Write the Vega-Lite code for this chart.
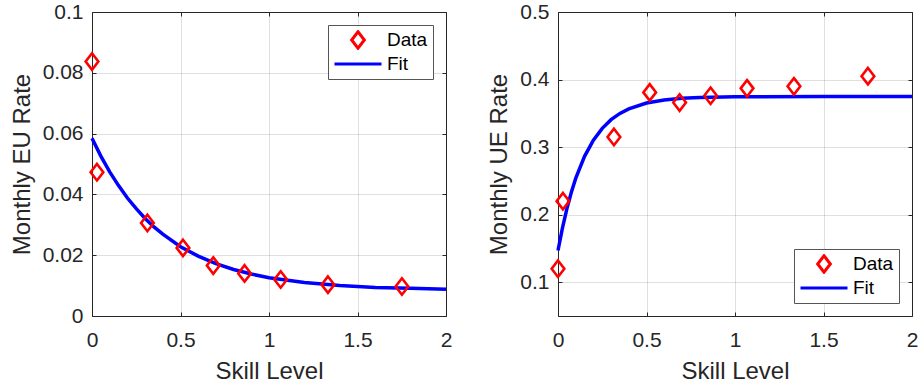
{
  "$schema": "https://vega.github.io/schema/vega-lite/v6.json",
  "background": "white",
  "padding": {"left": 10, "top": 1, "right": 4, "bottom": 2},
  "spacing": 34,
  "datasets": {
    "eu_data": [
      {"skill": 0, "rate": 0.0837, "series": "Data"},
      {"skill": 0.028, "rate": 0.0473, "series": "Data"},
      {"skill": 0.313, "rate": 0.0306, "series": "Data"},
      {"skill": 0.514, "rate": 0.0224, "series": "Data"},
      {"skill": 0.685, "rate": 0.0166, "series": "Data"},
      {"skill": 0.862, "rate": 0.014, "series": "Data"},
      {"skill": 1.066, "rate": 0.012, "series": "Data"},
      {"skill": 1.333, "rate": 0.0103, "series": "Data"},
      {"skill": 1.751, "rate": 0.0097, "series": "Data"}
    ],
    "eu_fit": [
      {"skill": 0, "rate": 0.0585},
      {"skill": 0.05, "rate": 0.0526},
      {"skill": 0.1, "rate": 0.0474},
      {"skill": 0.15, "rate": 0.0429},
      {"skill": 0.2, "rate": 0.0388},
      {"skill": 0.25, "rate": 0.0353},
      {"skill": 0.3, "rate": 0.0321},
      {"skill": 0.35, "rate": 0.0293},
      {"skill": 0.4, "rate": 0.0269},
      {"skill": 0.5, "rate": 0.0228},
      {"skill": 0.6, "rate": 0.0197},
      {"skill": 0.7, "rate": 0.0172},
      {"skill": 0.8, "rate": 0.0153},
      {"skill": 0.9, "rate": 0.0138},
      {"skill": 1.0, "rate": 0.0126},
      {"skill": 1.2, "rate": 0.011},
      {"skill": 1.4, "rate": 0.01},
      {"skill": 1.6, "rate": 0.0094},
      {"skill": 1.8, "rate": 0.0091},
      {"skill": 2.0, "rate": 0.0088}
    ],
    "ue_data": [
      {"skill": 0, "rate": 0.12, "series": "Data"},
      {"skill": 0.028, "rate": 0.22, "series": "Data"},
      {"skill": 0.316, "rate": 0.315, "series": "Data"},
      {"skill": 0.518, "rate": 0.381, "series": "Data"},
      {"skill": 0.687, "rate": 0.366, "series": "Data"},
      {"skill": 0.862, "rate": 0.376, "series": "Data"},
      {"skill": 1.068, "rate": 0.387, "series": "Data"},
      {"skill": 1.333, "rate": 0.39, "series": "Data"},
      {"skill": 1.751, "rate": 0.405, "series": "Data"}
    ],
    "ue_fit": [
      {"skill": 0, "rate": 0.147},
      {"skill": 0.025, "rate": 0.18},
      {"skill": 0.05, "rate": 0.2086},
      {"skill": 0.075, "rate": 0.2329},
      {"skill": 0.1, "rate": 0.2536},
      {"skill": 0.15, "rate": 0.2864},
      {"skill": 0.2, "rate": 0.3103},
      {"skill": 0.25, "rate": 0.3278},
      {"skill": 0.3, "rate": 0.3406},
      {"skill": 0.35, "rate": 0.3499},
      {"skill": 0.4, "rate": 0.3566},
      {"skill": 0.5, "rate": 0.3652},
      {"skill": 0.6, "rate": 0.3698},
      {"skill": 0.7, "rate": 0.3722},
      {"skill": 0.8, "rate": 0.3735},
      {"skill": 1.0, "rate": 0.3746},
      {"skill": 1.5, "rate": 0.375},
      {"skill": 2.0, "rate": 0.375}
    ]
  },
  "resolve": {
    "scale": {"color": "independent", "shape": "independent"},
    "legend": {"color": "independent", "shape": "independent"}
  },
  "hconcat": [
    {
      "width": 354,
      "height": 304,
      "layer": [
        {
          "data": {"name": "eu_fit"},
          "mark": {"type": "line", "color": "#0000ff", "strokeWidth": 3.5},
          "encoding": {
            "x": {"field": "skill", "type": "quantitative", "scale": {"domain": [0, 2], "nice": false},
                  "axis": {"orient": "top", "title": null, "labels": false, "grid": false, "values": [0, 0.5, 1, 1.5, 2]}},
            "y": {"field": "rate", "type": "quantitative", "scale": {"domain": [0, 0.1], "nice": false},
                  "axis": {"orient": "right", "title": null, "labels": false, "grid": false, "values": [0, 0.02, 0.04, 0.06, 0.08, 0.1]}}
          }
        },
        {
          "data": {"name": "eu_data"},
          "mark": {"type": "point", "filled": false, "strokeWidth": 2.6, "size": 2209, "opacity": 1},
          "encoding": {
            "x": {"field": "skill", "type": "quantitative",
                  "axis": {"orient": "bottom", "title": "Skill Level", "grid": true, "values": [0, 0.5, 1, 1.5, 2], "format": "~g"}},
            "y": {"field": "rate", "type": "quantitative",
                  "axis": {"orient": "left", "title": "Monthly EU Rate", "grid": true, "values": [0, 0.02, 0.04, 0.06, 0.08, 0.1], "format": "~g"}},
            "color": {"field": "series", "type": "nominal",
                      "scale": {"domain": ["Data", "Fit"], "range": ["#ff0000", "#0000ff"]},
                      "legend": {"orient": "top-right", "offset": 13}},
            "shape": {"field": "series", "type": "nominal",
                      "scale": {"domain": ["Data", "Fit"], "range": ["M0,-0.35L0.27,0L0,0.35L-0.27,0Z", "M-1,0H1"]},
                      "legend": {"orient": "top-right", "offset": 13}}
          }
        }
      ]
    },
    {
      "width": 354,
      "height": 304,
      "layer": [
        {
          "data": {"name": "ue_fit"},
          "mark": {"type": "line", "color": "#0000ff", "strokeWidth": 3.5},
          "encoding": {
            "x": {"field": "skill", "type": "quantitative", "scale": {"domain": [0, 2], "nice": false},
                  "axis": {"orient": "top", "title": null, "labels": false, "grid": false, "values": [0, 0.5, 1, 1.5, 2]}},
            "y": {"field": "rate", "type": "quantitative", "scale": {"domain": [0.05, 0.5], "nice": false, "zero": false},
                  "axis": {"orient": "right", "title": null, "labels": false, "grid": false, "values": [0.1, 0.2, 0.3, 0.4, 0.5]}}
          }
        },
        {
          "data": {"name": "ue_data"},
          "mark": {"type": "point", "filled": false, "strokeWidth": 2.6, "size": 2209, "opacity": 1},
          "encoding": {
            "x": {"field": "skill", "type": "quantitative",
                  "axis": {"orient": "bottom", "title": "Skill Level", "grid": true, "values": [0, 0.5, 1, 1.5, 2], "format": "~g"}},
            "y": {"field": "rate", "type": "quantitative",
                  "axis": {"orient": "left", "title": "Monthly UE Rate", "grid": true, "values": [0.1, 0.2, 0.3, 0.4, 0.5], "format": "~g"}},
            "color": {"field": "series", "type": "nominal",
                      "scale": {"domain": ["Data", "Fit"], "range": ["#ff0000", "#0000ff"]},
                      "legend": {"orient": "bottom-right", "offset": 13}},
            "shape": {"field": "series", "type": "nominal",
                      "scale": {"domain": ["Data", "Fit"], "range": ["M0,-0.35L0.27,0L0,0.35L-0.27,0Z", "M-1,0H1"]},
                      "legend": {"orient": "bottom-right", "offset": 13}}
          }
        }
      ]
    }
  ],
  "config": {
    "view": {"stroke": null},
    "font": "Liberation Sans",
    "axis": {
      "labelFont": "Liberation Sans",
      "labelFontSize": 21,
      "labelColor": "#262626",
      "labelFlush": false,
      "labelOverlap": false,
      "titleFont": "Liberation Sans",
      "titleFontSize": 24,
      "titleFontWeight": "normal",
      "titleColor": "#262626",
      "domainColor": "#262626",
      "domainWidth": 1,
      "tickColor": "#262626",
      "tickSize": -4,
      "tickWidth": 1,
      "gridColor": "#262626",
      "gridOpacity": 0.15,
      "gridWidth": 1
    },
    "axisX": {"labelPadding": 17, "titlePadding": 9},
    "axisY": {"labelPadding": 13, "titlePadding": 8},
    "legend": {
      "title": null,
      "padding": 5,
      "symbolSize": 2209,
      "symbolStrokeWidth": 3,
      "labelFont": "Liberation Sans",
      "labelFontSize": 19,
      "labelColor": "#000000",
      "labelOffset": 4,
      "rowPadding": 4,
      "strokeColor": "#555555",
      "fillColor": "#ffffff",
      "clipHeight": 20
    }
  }
}
